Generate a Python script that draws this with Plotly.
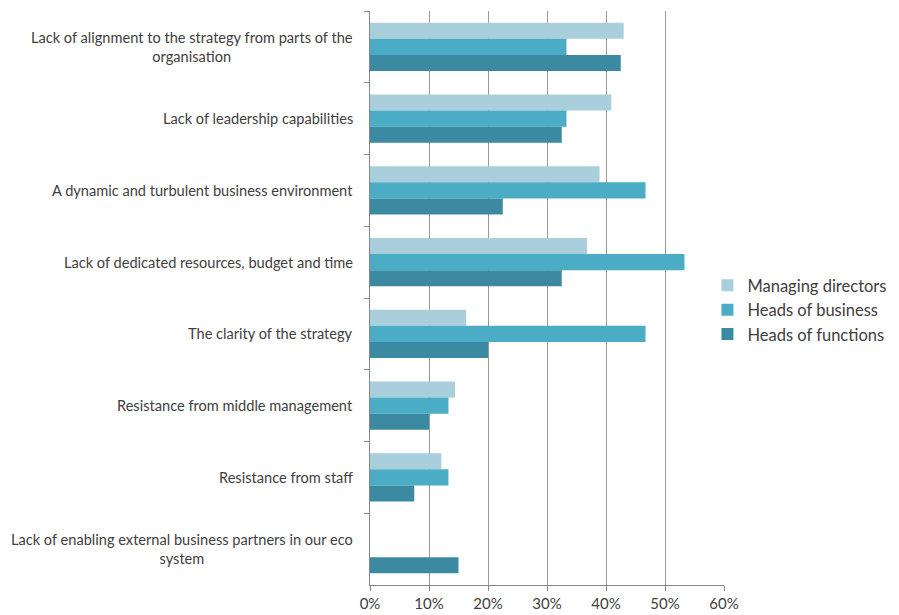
import plotly.graph_objects as go

categories = [
    "Lack of alignment to the strategy from parts of the<br>organisation",
    "Lack of leadership capabilities",
    "A dynamic and turbulent business environment",
    "Lack of dedicated resources, budget and time",
    "The clarity of the strategy",
    "Resistance from middle management",
    "Resistance from staff",
    "Lack of enabling external business partners in our eco<br>system",
]
managing_directors = [43.0, 40.9, 38.9, 36.8, 16.3, 14.4, 12.1, 0]
heads_of_business = [33.3, 33.3, 46.7, 53.3, 46.7, 13.3, 13.3, 0]
heads_of_functions = [42.5, 32.5, 22.5, 32.5, 20.0, 10.0, 7.5, 15.0]
series_names = ["Managing directors", "Heads of business", "Heads of functions"]
colors = ["#A9CEDC", "#4BACC6", "#3B8AA1"]

FONT = "Lato, 'Open Sans', sans-serif"
fig = go.Figure()
for name, vals, c in zip(series_names, [managing_directors, heads_of_business, heads_of_functions], colors):
    fig.add_trace(go.Bar(y=categories, x=[v / 100 for v in vals], name=name, orientation="h",
                         marker=dict(color=c, line=dict(width=0))))

for cat in categories:
    fig.add_annotation(text=cat, xref="paper", yref="y", x=0, y=cat, xanchor="right",
                       xshift=-15, align="center", showarrow=False,
                       font=dict(family=FONT, size=14.6, color="#404040"))

fig.update_layout(
    width=891, height=607, barmode="group", bargap=0.33, bargroupgap=0,
    margin=dict(l=362, r=175, t=3, b=30, autoexpand=False),
    plot_bgcolor="white", paper_bgcolor="white",
    font=dict(family=FONT, size=13, color="#404040"),
    legend=dict(xref="container", yref="container", x=0.785, y=0.5025,
                xanchor="left", yanchor="middle", tracegroupgap=0,
                font=dict(family=FONT, size=16.5, color="#404040"), itemwidth=30,
                bgcolor="rgba(0,0,0,0)"),
    xaxis=dict(range=[0, 0.6], dtick=0.1, tickformat=".0%", showgrid=True,
               gridcolor="#9A9A9A", gridwidth=1, showline=True, linecolor="#868686",
               ticks="outside", ticklen=5, tickcolor="#868686", zeroline=False,
               automargin=False,
               tickfont=dict(family=FONT, size=15, color="#404040")),
    yaxis=dict(autorange="reversed", showticklabels=False, showline=True,
               linecolor="#868686", ticks="outside", ticklen=5, tickcolor="#868686",
               tickson="boundaries", showgrid=False, automargin=False),
)
fig.write_html("out.html")
